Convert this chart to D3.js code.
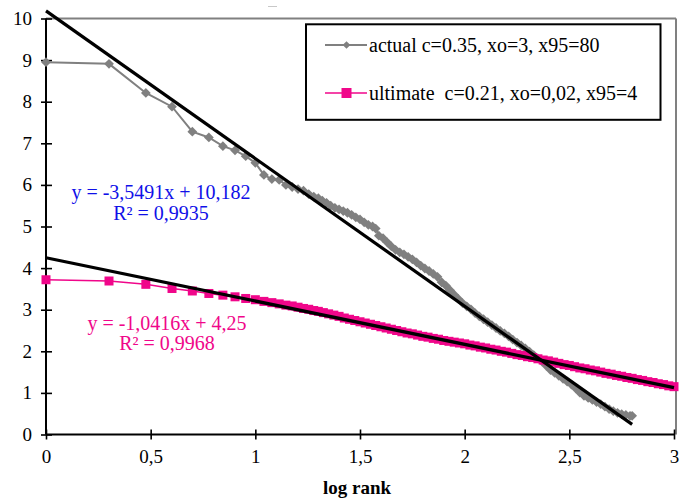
<!DOCTYPE html>
<html><head><meta charset="utf-8">
<script src="https://cdn.jsdelivr.net/npm/d3@7"></script>
<style>
html,body{margin:0;padding:0;background:#fff;}
svg{display:block;}
text{font-family:"Liberation Serif","Times New Roman",serif;}
</style></head>
<body>
<svg id="c" width="687" height="501"></svg>
<script>
// ---- data ----
const xTicks = [0, 0.5, 1, 1.5, 2, 2.5, 3];
const yTicks = [0, 1, 2, 3, 4, 5, 6, 7, 8, 9, 10];
const xLabel = "log rank";
const seriesNames = ["actual c=0.35, xo=3, x95=80", "ultimate  c=0.21, xo=0,02, x95=4"];

// actual series: log rank, value
const actualX = [0,0.301,0.477,0.602,0.699,0.778,0.845,0.903,0.954,1.000,1.041,1.079,1.114,1.146,1.176,1.204,1.230,1.255,1.279,1.301,
 1.32,1.34,1.36,1.38,1.40,1.42,1.44,1.46,1.48,1.50,1.52,1.54,1.56,1.575,1.59,1.61,1.63,1.65,1.67,1.69,1.71,1.73,1.75,1.77,1.79,1.81,1.83,1.85,1.87,1.89,
 1.91,1.93,1.95,1.97,1.99,2.01,2.03,2.05,2.07,2.09,2.11,2.13,2.15,2.17,2.19,2.21,2.23,2.25,2.27,2.29,2.31,2.33,2.35,2.37,2.39,2.41,2.43,2.45,2.47,2.49,
 2.51,2.53,2.55,2.57,2.59,2.61,2.63,2.65,2.67,2.69,2.71,2.73,2.75,2.77,2.79,2.80];
const actualY = [8.95,8.91,8.21,7.88,7.28,7.14,6.93,6.83,6.69,6.53,6.24,6.14,6.12,6.00,5.95,5.90,5.86,5.78,5.72,5.68,
 5.62,5.57,5.50,5.45,5.41,5.37,5.33,5.28,5.22,5.17,5.10,5.04,5.00,4.95,4.78,4.72,4.62,4.52,4.44,4.38,4.33,4.27,4.21,4.14,4.06,3.99,3.93,3.86,3.79,3.66,
 3.58,3.47,3.36,3.26,3.16,3.08,3.01,2.92,2.84,2.77,2.70,2.63,2.56,2.49,2.43,2.36,2.28,2.21,2.14,2.07,1.99,1.91,1.83,1.75,1.65,1.55,1.48,1.41,1.34,1.27,
 1.20,1.11,1.01,0.93,0.88,0.83,0.78,0.73,0.67,0.61,0.56,0.52,0.49,0.47,0.45,0.45];

// ultimate series: log rank, value
const ultimateX = [0,0.301,0.477,0.602,0.699,0.778,0.845,0.903,0.954,1.000,1.041,1.079,1.114,1.146,1.176,1.204,1.230,1.255,1.279,1.301,
 1.325,1.35,1.375,1.40,1.425,1.45,1.475,1.50,1.525,1.55,1.575,1.60,1.625,1.65,1.675,1.70,1.725,1.75,1.775,1.80,1.825,1.85,1.875,1.90,1.925,1.95,1.975,
 2.00,2.025,2.05,2.075,2.10,2.125,2.15,2.175,2.20,2.225,2.25,2.275,2.30,2.325,2.35,2.375,2.40,2.425,2.45,2.475,2.50,2.525,2.55,2.575,2.60,2.625,2.65,
 2.675,2.70,2.725,2.75,2.775,2.80,2.825,2.85,2.875,2.90,2.925,2.95,2.975,3.00];
const ultimateY = [3.72,3.69,3.61,3.51,3.45,3.39,3.35,3.31,3.27,3.24,3.20,3.17,3.14,3.11,3.09,3.06,3.03,3.01,2.98,2.96,
 2.93,2.90,2.87,2.84,2.80,2.77,2.74,2.71,2.68,2.65,2.62,2.59,2.56,2.53,2.50,2.47,2.44,2.42,2.39,2.36,2.34,2.31,2.29,2.26,2.24,2.22,2.20,
 2.18,2.15,2.13,2.10,2.08,2.05,2.03,2.00,1.98,1.95,1.92,1.90,1.87,1.85,1.82,1.79,1.77,1.74,1.71,1.68,1.66,1.63,1.60,1.58,1.55,1.53,1.50,
 1.47,1.45,1.42,1.40,1.37,1.35,1.32,1.30,1.27,1.25,1.22,1.20,1.17,1.15];

// trendlines: slope, intercept, R2
const trendSlope = [-3.5491, -1.0416];
const trendIntercept = [10.182, 4.25];
const trendR2 = ["0,9935", "0,9968"];
const trendEq = ["y = -3,5491x + 10,182", "y = -1,0416x + 4,25"];

// ---- drawing ----
const GRAY = "#808080", PINK = "#f0068a", BLUE = "#1010e8";
const svg = d3.select("#c");
const x = d3.scaleLinear().domain([0, 3]).range([46, 674]);
const y = d3.scaleLinear().domain([0, 10]).range([434.5, 18.5]);

// stray mark at top
svg.append("line").attr("x1", 268).attr("x2", 277).attr("y1", 6.5).attr("y2", 6.5)
  .attr("stroke", "#c8c8c8").attr("stroke-width", 1);

// plot frame (top & right gray)
svg.append("line").attr("x1", x(0)).attr("x2", x(3) + 2).attr("y1", y(10)).attr("y2", y(10))
  .attr("stroke", GRAY).attr("stroke-width", 2);
svg.append("line").attr("x1", x(3) + 2).attr("x2", x(3) + 2).attr("y1", y(10)).attr("y2", y(0))
  .attr("stroke", GRAY).attr("stroke-width", 2);

const fmt = d => String(d).replace(".", ",");

// axes
const gx = svg.append("g").attr("transform", `translate(0,${y(0)})`)
  .call(d3.axisBottom(x).tickValues(xTicks).tickFormat(fmt).tickSize(5).tickPadding(10));
gx.selectAll(".tick line").attr("y1", -5).attr("y2", 5).attr("stroke", "#000").attr("stroke-width", 1.6);
gx.select(".domain").attr("stroke", "#000").attr("stroke-width", 2).attr("d", `M${x(0)},0H${x(3)}`);
gx.selectAll(".tick text").attr("font-size", 19).attr("fill", "#000").attr("font-family", "Liberation Serif");

const gy = svg.append("g").attr("transform", `translate(${x(0)},0)`)
  .call(d3.axisLeft(y).tickValues(yTicks).tickFormat(fmt).tickSize(5).tickPadding(9));
gy.selectAll(".tick line").attr("x1", -5).attr("x2", 6).attr("stroke", "#000").attr("stroke-width", 1.6);
gy.select(".domain").attr("stroke", "#000").attr("stroke-width", 2).attr("d", `M0,${y(0)}V${y(10)}`);
gy.selectAll(".tick text").attr("font-size", 19).attr("fill", "#000").attr("font-family", "Liberation Serif");

svg.append("text").attr("x", 357).attr("y", 494).attr("text-anchor", "middle")
  .attr("font-size", 19).attr("font-weight", "bold").text(xLabel);

// series data
const actual = actualX.map((v, i) => [v, actualY[i]]);
const ultimate = ultimateX.map((v, i) => [v, ultimateY[i]]);
const line = d3.line().x(d => x(d[0])).y(d => y(d[1]));

// actual (gray, diamonds)
svg.append("path").attr("d", line(actual)).attr("fill", "none").attr("stroke", GRAY).attr("stroke-width", 2);
svg.append("g").selectAll("path").data(actual).join("path")
  .attr("d", d3.symbol().type(d3.symbolSquare).size(48)())
  .attr("transform", d => `translate(${x(d[0])},${y(d[1])}) rotate(45)`)
  .attr("fill", GRAY);

// ultimate (pink, squares)
svg.append("path").attr("d", line(ultimate)).attr("fill", "none").attr("stroke", PINK).attr("stroke-width", 1.5);
svg.append("g").selectAll("rect").data(ultimate).join("rect")
  .attr("x", d => x(d[0]) - 4.5).attr("y", d => y(d[1]) - 4.5)
  .attr("width", 9).attr("height", 9).attr("fill", PINK);

// trendlines
const trendXmax = [d3.max(actualX), d3.max(ultimateX)];
trendSlope.forEach((m, i) => {
  const b = trendIntercept[i];
  svg.append("line")
    .attr("x1", x(0)).attr("y1", y(b))
    .attr("x2", x(trendXmax[i])).attr("y2", y(b + m * trendXmax[i]))
    .attr("stroke", "#000").attr("stroke-width", 3.2);
});

// trend labels
function eqLabel(cx, y1, y2, color, eq, r2) {
  svg.append("text").attr("x", cx).attr("y", y1).attr("text-anchor", "middle")
    .attr("font-size", 20).attr("fill", color).text(eq);
  svg.append("text").attr("x", cx).attr("y", y2).attr("text-anchor", "middle")
    .attr("font-size", 20).attr("fill", color).text("R\u00B2 = " + r2);
}
eqLabel(161, 199, 220, BLUE, trendEq[0], trendR2[0]);
eqLabel(167, 330, 350, PINK, trendEq[1], trendR2[1]);

// legend
svg.append("rect").attr("x", 306).attr("y", 24.3).attr("width", 354.5).attr("height", 95.5)
  .attr("fill", "#fff").attr("stroke", "#000").attr("stroke-width", 2);
const lg = [{y: 45, c: GRAY, t: seriesNames[0], m: "d"}, {y: 93, c: PINK, t: seriesNames[1], m: "s"}];
lg.forEach(l => {
  svg.append("line").attr("x1", 325).attr("x2", 367).attr("y1", l.y).attr("y2", l.y)
    .attr("stroke", l.c).attr("stroke-width", l.m === "d" ? 2 : 1.5);
  if (l.m === "d") {
    svg.append("path").attr("d", d3.symbol().type(d3.symbolSquare).size(30)())
      .attr("transform", `translate(346.5,${l.y}) rotate(45)`).attr("fill", l.c);
  } else {
    svg.append("rect").attr("x", 341.5).attr("y", l.y - 5).attr("width", 10).attr("height", 10).attr("fill", l.c);
  }
  svg.append("text").attr("x", 369).attr("y", l.y + 7).attr("font-size", 20).attr("fill", "#000")
    .style("white-space", "pre").attr("xml:space", "preserve").text(l.t);
});
</script>
</body></html>
